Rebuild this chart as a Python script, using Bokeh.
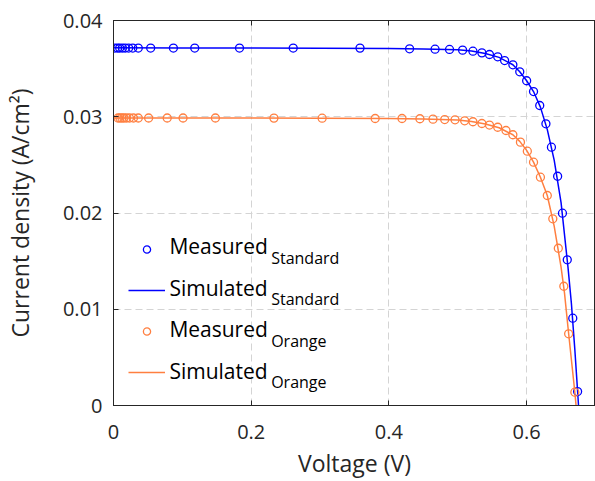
from bokeh.plotting import figure
from bokeh.models import Range1d, FixedTicker, Legend, LegendItem, Label, LinearAxis
from bokeh.embed import file_html
from bokeh.resources import INLINE

# ---- data ----
meas_std_v = [0.002, 0.006, 0.009, 0.013, 0.017, 0.022, 0.028, 0.036, 0.054, 0.087,
              0.118, 0.183, 0.261, 0.358, 0.430, 0.467, 0.488, 0.507, 0.522, 0.535,
              0.546, 0.558, 0.568, 0.580, 0.590, 0.600, 0.610, 0.619, 0.628, 0.636,
              0.645, 0.652, 0.659, 0.667, 0.674]
meas_std_j = [0.03714, 0.03714, 0.03714, 0.03714, 0.03714, 0.03714, 0.03714, 0.03714,
              0.03714, 0.03714, 0.03714, 0.03714, 0.03714, 0.03713, 0.03706, 0.03702,
              0.03699, 0.03692, 0.03681, 0.03664, 0.03647, 0.03623, 0.03584, 0.03540,
              0.03467, 0.03374, 0.03262, 0.03117, 0.02927, 0.02684, 0.02382, 0.01998,
              0.01514, 0.00907, 0.00145]

sim_std_v = [0.0, 0.1, 0.2, 0.3, 0.4, 0.45, 0.5, 0.52, 0.54, 0.56, 0.58, 0.59, 0.60,
             0.61, 0.62, 0.63, 0.64, 0.65, 0.66, 0.665, 0.67, 0.675, 0.68]
sim_std_j = [0.03716, 0.03715, 0.03714, 0.03712, 0.03709, 0.03704, 0.03695, 0.03683,
             0.03657, 0.03617, 0.03540, 0.03467, 0.03374, 0.03262, 0.03100, 0.02866,
             0.02550, 0.02108, 0.01440, 0.01060, 0.00580, 0.00040, -0.00600]

meas_or_v = [0.0065, 0.0094, 0.0123, 0.0152, 0.0188, 0.0232, 0.029, 0.036, 0.051, 0.078,
             0.101, 0.148, 0.233, 0.303, 0.380, 0.419, 0.445, 0.464, 0.481, 0.496,
             0.510, 0.522, 0.535, 0.546, 0.558, 0.570, 0.580, 0.591, 0.601, 0.610,
             0.620, 0.630, 0.638, 0.646, 0.654, 0.661, 0.670]
meas_or_j = [0.02987, 0.02987, 0.02987, 0.02987, 0.02987, 0.02987, 0.02987, 0.02987,
             0.02987, 0.02987, 0.02987, 0.02987, 0.02986, 0.02985, 0.02982, 0.02982,
             0.02979, 0.02975, 0.02971, 0.02968, 0.02958, 0.02948, 0.02930, 0.02914,
             0.02891, 0.02857, 0.02813, 0.02736, 0.02642, 0.02528, 0.02372, 0.02182,
             0.01940, 0.01634, 0.01239, 0.00745, 0.00138]

sim_or_v = [0.0, 0.1, 0.2, 0.3, 0.4, 0.45, 0.5, 0.52, 0.54, 0.56, 0.58, 0.59, 0.60,
            0.61, 0.62, 0.63, 0.64, 0.65, 0.655, 0.66, 0.665, 0.67, 0.675]
sim_or_j = [0.02988, 0.02987, 0.02986, 0.02985, 0.02981, 0.02977, 0.02965, 0.02950,
            0.02924, 0.02886, 0.02813, 0.02744, 0.02651, 0.02528, 0.02372, 0.02182,
            0.01864, 0.01437, 0.01168, 0.00816, 0.00475, 0.00138, -0.00250]

x_ticks = [0, 0.2, 0.4, 0.6]
x_tick_labels = ["0", "0.2", "0.4", "0.6"]
y_ticks = [0, 0.01, 0.02, 0.03, 0.04]
y_tick_labels = ["0", "0.01", "0.02", "0.03", "0.04"]

legend_main = ["Measured", "Simulated", "Measured", "Simulated"]
legend_sub = ["Standard", "Standard", "Orange", "Orange"]

BLUE = "#0000ff"
ORANGE = "#ff7f40"
TXT = "#262626"
FONT = "Open Sans"

X0, X1 = 0.0, 0.7
Y0, Y1 = 0.0, 0.04

p = figure(width=595, height=481, output_backend="svg", toolbar_location=None,
           x_range=Range1d(X0, X1), y_range=Range1d(Y0, Y1),
           min_border_left=112, min_border_right=0, min_border_top=20,
           min_border_bottom=76)
p.background_fill_color = "white"
p.border_fill_color = "white"
p.outline_line_color = TXT
p.outline_line_width = 1

for ax in (p.xaxis[0], p.yaxis[0]):
    ax.axis_line_color = TXT
    ax.major_tick_line_color = TXT
    ax.major_tick_in = 5
    ax.major_tick_out = 0
    ax.minor_tick_line_color = None
    ax.major_label_text_font = FONT
    ax.major_label_text_font_size = "20px"
    ax.major_label_text_color = TXT
    ax.axis_label_text_font = FONT
    ax.axis_label_text_font_size = "23px"
    ax.axis_label_text_font_style = "normal"
    ax.axis_label_text_color = TXT

p.xaxis[0].ticker = FixedTicker(ticks=x_ticks)
p.xaxis[0].major_label_overrides = dict(zip(x_ticks, x_tick_labels))
p.yaxis[0].ticker = FixedTicker(ticks=y_ticks)
p.yaxis[0].major_label_overrides = dict(zip(y_ticks, y_tick_labels))
p.xaxis[0].axis_label = "Voltage (V)"
p.yaxis[0].axis_label = "Current density (A/cm²)"
p.xaxis[0].major_label_standoff = 19
p.yaxis[0].major_label_standoff = 11
p.xaxis[0].axis_label_standoff = 5
p.yaxis[0].axis_label_standoff = 24

top_ax = LinearAxis(ticker=FixedTicker(ticks=x_ticks), axis_line_color=TXT,
                    major_tick_line_color=TXT, major_tick_in=5, major_tick_out=0,
                    minor_tick_line_color=None, major_label_text_font_size="1px",
                    major_label_text_alpha=0, major_label_standoff=0)
p.add_layout(top_ax, "above")

for g in (p.xgrid[0], p.ygrid[0]):
    g.grid_line_color = "#d4d4d4"
    g.grid_line_dash = "7 4"
    g.grid_line_width = 1
p.xgrid[0].ticker = FixedTicker(ticks=x_ticks)
p.ygrid[0].ticker = FixedTicker(ticks=y_ticks)

r1 = p.scatter(meas_std_v, meas_std_j, marker="circle", size=8, fill_color=None,
               line_color=BLUE, line_width=1.3)
r2 = p.line(sim_std_v, sim_std_j, line_color=BLUE, line_width=1.5)
r3 = p.scatter(meas_or_v, meas_or_j, marker="circle", size=8, fill_color=None,
               line_color=ORANGE, line_width=1.3)
r4 = p.line(sim_or_v, sim_or_j, line_color=ORANGE, line_width=1.5)

# legend glyph samples (labels are drawn separately to allow subscripts)
legend = Legend(items=[LegendItem(label=" ", renderers=[r]) for r in (r1, r2, r3, r4)],
                location=(15, 24), padding=0, margin=0, spacing=23,
                glyph_width=37, glyph_height=18, label_height=18, label_width=1,
                label_standoff=0, label_text_font_size="1px",
                background_fill_alpha=0, border_line_color=None)
p.add_layout(legend, "center")

# frame geometry (in pixels) used to place legend texts
FW, FH = 483.0, 385.0
def dx(px):
    return X0 + (X1 - X0) * px / FW
def dy(py_from_top):
    return Y1 - (Y1 - Y0) * py_from_top / FH

main_base = [225.7, 267.0, 308.5, 350.0]   # baselines, px below frame top
for i in range(4):
    p.add_layout(Label(x=dx(56), y=dy(main_base[i]), text=legend_main[i],
                       text_font=FONT, text_font_size="21px", text_color="black",
                       text_baseline="alphabetic", text_align="left"))
    p.add_layout(Label(x=dx(158), y=dy(main_base[i] + 11.5), text=legend_sub[i],
                       text_font=FONT, text_font_size="16px", text_color="black",
                       text_baseline="alphabetic", text_align="left"))

open("out.html", "w").write(file_html(p, INLINE))
